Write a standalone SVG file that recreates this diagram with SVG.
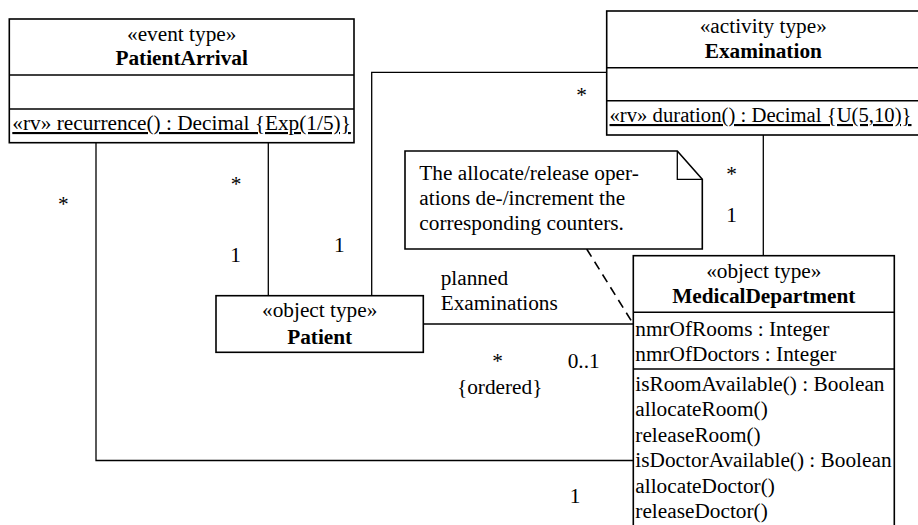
<svg xmlns="http://www.w3.org/2000/svg" width="918" height="525" viewBox="0 0 918 525">
<style>
text{font-size:21.3px;fill:#000}
.c{text-anchor:middle}
.b{font-weight:bold}
.u{text-decoration:underline}
.box{fill:#fff;stroke:#000;stroke-width:1.6}
.sep{stroke:#000;stroke-width:1.6}
.conn{fill:none;stroke:#000;stroke-width:1.3}
.dash{fill:none;stroke:#000;stroke-width:1.6;stroke-dasharray:9,6}
</style>
<rect width="918" height="525" fill="#fff"/>
<g font-family="'Liberation Serif', Tinos, 'Times New Roman', Times, serif">
<g id="connectors">
<polyline class="conn" points="96,143 96,460.5 633.3,460.5"/>
<line class="conn" x1="268.3" y1="143" x2="268.3" y2="295.7"/>
<polyline class="conn" points="371.7,295.7 371.7,72.3 606.7,72.3"/>
<line class="conn" x1="763.3" y1="135" x2="763.3" y2="255.7"/>
<line class="conn" x1="423.3" y1="324" x2="633.3" y2="324"/>
<line class="dash" x1="586.7" y1="249" x2="633.3" y2="324"/>
<text class="c" x="63.3" y="211">*</text>
<text class="c" x="236" y="191">*</text>
<text class="c" x="235.7" y="261.5">1</text>
<text class="c" x="339.3" y="252">1</text>
<text class="c" x="581.7" y="102">*</text>
<text class="c" x="731.7" y="181">*</text>
<text class="c" x="731.7" y="221.5">1</text>
<text x="440.7" y="285">planned</text>
<text x="440.7" y="309.5">Examinations</text>
<text class="c" x="497.7" y="368">*</text>
<text x="567.7" y="368">0..1</text>
<text class="c" x="499.7" y="393.5">{ordered}</text>
<text class="c" x="575" y="503">1</text>
</g>
<g id="PatientArrival">
<rect class="box" x="9.3" y="19" width="344.7" height="123.7"/>
<line class="sep" x1="9.3" y1="75" x2="354" y2="75"/>
<line class="sep" x1="9.3" y1="109" x2="354" y2="109"/>
<text class="c" x="181.7" y="41">«event type»</text>
<text class="c b" x="181.7" y="65.3">PatientArrival</text>
<text class="u" x="12.3" y="130">«rv» recurrence() : Decimal {Exp(1/5)}</text>
</g>
<g id="Examination">
<rect class="box" x="606.7" y="11" width="320" height="124"/>
<line class="sep" x1="606.7" y1="67.7" x2="926.7" y2="67.7"/>
<line class="sep" x1="606.7" y1="100.7" x2="926.7" y2="100.7"/>
<text class="c" x="763.3" y="33">«activity type»</text>
<text class="c b" x="763.3" y="57.5">Examination</text>
<text class="u" x="609.5" y="122" textLength="302" lengthAdjust="spacingAndGlyphs">«rv» duration() : Decimal {U(5,10)}</text>
</g>
<g id="Patient">
<rect class="box" x="216" y="295.7" width="207.3" height="56.6"/>
<text class="c" x="319.7" y="317">«object type»</text>
<text class="c b" x="319.7" y="344">Patient</text>
</g>
<g id="MedicalDepartment">
<rect class="box" x="633.3" y="255.7" width="261" height="280"/>
<line class="sep" x1="633.3" y1="312.3" x2="894.3" y2="312.3"/>
<line class="sep" x1="633.3" y1="369" x2="894.3" y2="369"/>
<text class="c" x="763.8" y="278">«object type»</text>
<text class="c b" x="763.8" y="303">MedicalDepartment</text>
<text x="635.3" y="335.5">nmrOfRooms : Integer</text>
<text x="635.3" y="360.5">nmrOfDoctors : Integer</text>
<text x="635.3" y="390.5">isRoomAvailable() : Boolean</text>
<text x="635.3" y="416">allocateRoom()</text>
<text x="635.3" y="441.5">releaseRoom()</text>
<text x="635.3" y="467">isDoctorAvailable() : Boolean</text>
<text x="635.3" y="492.5">allocateDoctor()</text>
<text x="635.3" y="518">releaseDoctor()</text>
</g>
<g id="Note">
<path class="box" d="M405,151 H677.3 L702.3,179.3 V249 H405 Z"/>
<polyline class="conn" points="677.3,151 677.3,179.3 702.3,179.3"/>
<text x="419.3" y="180">The allocate/release oper-</text>
<text x="419.3" y="205">ations de-/increment the</text>
<text x="419.3" y="230">corresponding counters.</text>
</g>
</g>
</svg>
